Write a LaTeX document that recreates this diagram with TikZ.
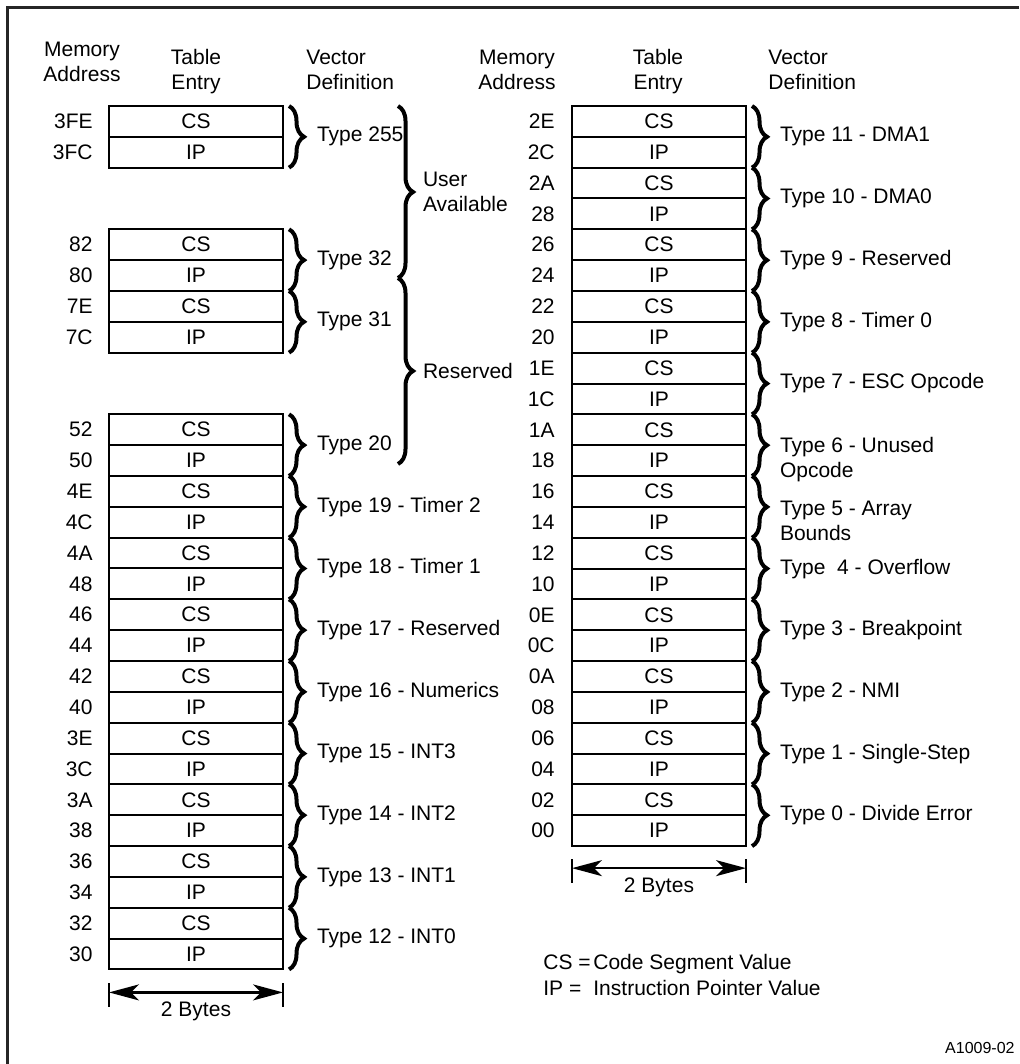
\documentclass[tikz,border=0pt]{standalone}
\usepackage{fontspec}
\setmainfont{Liberation Sans}
\usetikzlibrary{positioning,decorations.pathreplacing,arrows.meta}
\newcommand{\dfont}{\fontsize{10.5}{12.5}\selectfont}

\begin{document}
\begin{tikzpicture}[
    x=0.5pt, y=-0.5pt,
    cell/.style={draw, line width=1pt, minimum width=87pt, minimum height=15.42pt, inner sep=0pt, outer sep=0pt, font=\dfont},
    adr/.style={inner sep=0pt, font=\dfont},
    brc/.style={decorate, decoration={brace, amplitude=7.5pt}, line width=2pt},
    typ/.style={midway, right=13pt, inner sep=0pt, font=\dfont, align=left},
    hdr/.style={inner sep=0pt, font=\dfont, align=center},
    dim/.style={{Stealth[length=15pt, width=8pt, inset=4pt]}-{Stealth[length=15pt, width=8pt, inset=4pt]}, line width=1.2pt},
    tck/.style={line width=1.3pt}
]
    \useasboundingbox (0,0) rectangle (1019,1064);
    \draw[line width=1.2pt, black!85] (1019,7.5) -- (7.5,7.5) -- (7.5,1064);

    \node[hdr] (hma1) at (82,62) {Memory\\Address};
    \node[hdr] (hte1) at (196,72) {Table\\Entry};
    \node[hdr, align=left, anchor=west] (hvd1) at (306,70) {Vector\\Definition};
    \node[hdr] (hma2) at (517,70) {Memory\\Address};
    \node[hdr] (hte2) at (658,72) {Table\\Entry};
    \node[hdr, align=left, anchor=west] (hvd2) at (768,70) {Vector\\Definition};

    \node[cell] (a3FE) at (196,121.4) {CS};
    \node[cell, below=0pt of a3FE] (a3FC) {IP};
    \node[cell] (a82) at (196,244.7) {CS};
    \node[cell, below=0pt of a82] (a80) {IP};
    \node[cell, below=0pt of a80] (a7E) {CS};
    \node[cell, below=0pt of a7E] (a7C) {IP};
    \node[cell] (a52) at (196,429.7) {CS};
    \node[cell, below=0pt of a52] (a50) {IP};
    \node[cell, below=0pt of a50] (a4E) {CS};
    \node[cell, below=0pt of a4E] (a4C) {IP};
    \node[cell, below=0pt of a4C] (a4A) {CS};
    \node[cell, below=0pt of a4A] (a48) {IP};
    \node[cell, below=0pt of a48] (a46) {CS};
    \node[cell, below=0pt of a46] (a44) {IP};
    \node[cell, below=0pt of a44] (a42) {CS};
    \node[cell, below=0pt of a42] (a40) {IP};
    \node[cell, below=0pt of a40] (a3E) {CS};
    \node[cell, below=0pt of a3E] (a3C) {IP};
    \node[cell, below=0pt of a3C] (a3A) {CS};
    \node[cell, below=0pt of a3A] (a38) {IP};
    \node[cell, below=0pt of a38] (a36) {CS};
    \node[cell, below=0pt of a36] (a34) {IP};
    \node[cell, below=0pt of a34] (a32) {CS};
    \node[cell, below=0pt of a32] (a30) {IP};

    \node[adr, left=8pt of a3FE] {3FE};
    \node[adr, left=8pt of a3FC] {3FC};
    \node[adr, left=8pt of a82] {82};
    \node[adr, left=8pt of a80] {80};
    \node[adr, left=8pt of a7E] {7E};
    \node[adr, left=8pt of a7C] {7C};
    \node[adr, left=8pt of a52] {52};
    \node[adr, left=8pt of a50] {50};
    \node[adr, left=8pt of a4E] {4E};
    \node[adr, left=8pt of a4C] {4C};
    \node[adr, left=8pt of a4A] {4A};
    \node[adr, left=8pt of a48] {48};
    \node[adr, left=8pt of a46] {46};
    \node[adr, left=8pt of a44] {44};
    \node[adr, left=8pt of a42] {42};
    \node[adr, left=8pt of a40] {40};
    \node[adr, left=8pt of a3E] {3E};
    \node[adr, left=8pt of a3C] {3C};
    \node[adr, left=8pt of a3A] {3A};
    \node[adr, left=8pt of a38] {38};
    \node[adr, left=8pt of a36] {36};
    \node[adr, left=8pt of a34] {34};
    \node[adr, left=8pt of a32] {32};
    \node[adr, left=8pt of a30] {30};

    \draw[brc] ([xshift=3pt]a3FE.north east) -- ([xshift=3pt]a3FC.south east) node[typ] {Type 255};
    \draw[brc] ([xshift=3pt]a82.north east) -- ([xshift=3pt]a80.south east) node[typ] {Type 32};
    \draw[brc] ([xshift=3pt]a7E.north east) -- ([xshift=3pt]a7C.south east) node[typ] {Type 31};
    \draw[brc] ([xshift=3pt]a52.north east) -- ([xshift=3pt]a50.south east) node[typ] {Type 20};
    \draw[brc] ([xshift=3pt]a4E.north east) -- ([xshift=3pt]a4C.south east) node[typ] {Type 19 - Timer 2};
    \draw[brc] ([xshift=3pt]a4A.north east) -- ([xshift=3pt]a48.south east) node[typ] {Type 18 - Timer 1};
    \draw[brc] ([xshift=3pt]a46.north east) -- ([xshift=3pt]a44.south east) node[typ] {Type 17 - Reserved};
    \draw[brc] ([xshift=3pt]a42.north east) -- ([xshift=3pt]a40.south east) node[typ] {Type 16 - Numerics};
    \draw[brc] ([xshift=3pt]a3E.north east) -- ([xshift=3pt]a3C.south east) node[typ] {Type 15 - INT3};
    \draw[brc] ([xshift=3pt]a3A.north east) -- ([xshift=3pt]a38.south east) node[typ] {Type 14 - INT2};
    \draw[brc] ([xshift=3pt]a36.north east) -- ([xshift=3pt]a34.south east) node[typ] {Type 13 - INT1};
    \draw[brc] ([xshift=3pt]a32.north east) -- ([xshift=3pt]a30.south east) node[typ] {Type 12 - INT0};

    \coordinate (ua1) at (398,106);
    \coordinate (ua2) at (398,278);
    \coordinate (rs2) at (398,464);
    \draw[brc] (ua1) -- (ua2) node[typ, right=11.5pt] {User\\Available};
    \draw[brc] (ua2) -- (rs2) node[typ, right=11.5pt] {Reserved};

    \node[cell] (a2E) at (659,121.4) {CS};
    \node[cell, below=0pt of a2E] (a2C) {IP};
    \node[cell, below=0pt of a2C] (a2A) {CS};
    \node[cell, below=0pt of a2A] (a28) {IP};
    \node[cell, below=0pt of a28] (a26) {CS};
    \node[cell, below=0pt of a26] (a24) {IP};
    \node[cell, below=0pt of a24] (a22) {CS};
    \node[cell, below=0pt of a22] (a20) {IP};
    \node[cell, below=0pt of a20] (a1E) {CS};
    \node[cell, below=0pt of a1E] (a1C) {IP};
    \node[cell, below=0pt of a1C] (a1A) {CS};
    \node[cell, below=0pt of a1A] (a18) {IP};
    \node[cell, below=0pt of a18] (a16) {CS};
    \node[cell, below=0pt of a16] (a14) {IP};
    \node[cell, below=0pt of a14] (a12) {CS};
    \node[cell, below=0pt of a12] (a10) {IP};
    \node[cell, below=0pt of a10] (a0E) {CS};
    \node[cell, below=0pt of a0E] (a0C) {IP};
    \node[cell, below=0pt of a0C] (a0A) {CS};
    \node[cell, below=0pt of a0A] (a08) {IP};
    \node[cell, below=0pt of a08] (a06) {CS};
    \node[cell, below=0pt of a06] (a04) {IP};
    \node[cell, below=0pt of a04] (a02) {CS};
    \node[cell, below=0pt of a02] (a00) {IP};

    \node[adr, left=8.5pt of a2E] {2E};
    \node[adr, left=8.5pt of a2C] {2C};
    \node[adr, left=8.5pt of a2A] {2A};
    \node[adr, left=8.5pt of a28] {28};
    \node[adr, left=8.5pt of a26] {26};
    \node[adr, left=8.5pt of a24] {24};
    \node[adr, left=8.5pt of a22] {22};
    \node[adr, left=8.5pt of a20] {20};
    \node[adr, left=8.5pt of a1E] {1E};
    \node[adr, left=8.5pt of a1C] {1C};
    \node[adr, left=8.5pt of a1A] {1A};
    \node[adr, left=8.5pt of a18] {18};
    \node[adr, left=8.5pt of a16] {16};
    \node[adr, left=8.5pt of a14] {14};
    \node[adr, left=8.5pt of a12] {12};
    \node[adr, left=8.5pt of a10] {10};
    \node[adr, left=8.5pt of a0E] {0E};
    \node[adr, left=8.5pt of a0C] {0C};
    \node[adr, left=8.5pt of a0A] {0A};
    \node[adr, left=8.5pt of a08] {08};
    \node[adr, left=8.5pt of a06] {06};
    \node[adr, left=8.5pt of a04] {04};
    \node[adr, left=8.5pt of a02] {02};
    \node[adr, left=8.5pt of a00] {00};

    \draw[brc] ([xshift=3pt]a2E.north east) -- ([xshift=3pt]a2C.south east) node[typ] {Type 11 - DMA1};
    \draw[brc] ([xshift=3pt]a2A.north east) -- ([xshift=3pt]a28.south east) node[typ] {Type 10 - DMA0};
    \draw[brc] ([xshift=3pt]a26.north east) -- ([xshift=3pt]a24.south east) node[typ] {Type 9 - Reserved};
    \draw[brc] ([xshift=3pt]a22.north east) -- ([xshift=3pt]a20.south east) node[typ] {Type 8 - Timer 0};
    \draw[brc] ([xshift=3pt]a1E.north east) -- ([xshift=3pt]a1C.south east) node[typ] {Type 7 - ESC Opcode};
    \draw[brc] ([xshift=3pt]a1A.north east) -- ([xshift=3pt]a18.south east) node[typ, yshift=-7pt] {Type 6 - Unused\\Opcode};
    \draw[brc] ([xshift=3pt]a16.north east) -- ([xshift=3pt]a14.south east) node[typ, yshift=-6.75pt] {Type 5 - Array\\Bounds};
    \draw[brc] ([xshift=3pt]a12.north east) -- ([xshift=3pt]a10.south east) node[typ] {Type\ \ 4 - Overflow};
    \draw[brc] ([xshift=3pt]a0E.north east) -- ([xshift=3pt]a0C.south east) node[typ] {Type 3 - Breakpoint};
    \draw[brc] ([xshift=3pt]a0A.north east) -- ([xshift=3pt]a08.south east) node[typ] {Type 2 - NMI};
    \draw[brc] ([xshift=3pt]a06.north east) -- ([xshift=3pt]a04.south east) node[typ] {Type 1 - Single-Step};
    \draw[brc] ([xshift=3pt]a02.north east) -- ([xshift=3pt]a00.south east) node[typ] {Type 0 - Divide Error};

    \coordinate (dl1) at ([yshift=-11.5pt]a30.south west);
    \coordinate (dl2) at ([yshift=-11.5pt]a30.south east);
    \draw[tck] (dl1) ++(0,-9) -- ++(0,23.5);
    \draw[tck] (dl2) ++(0,-9) -- ++(0,23.5);
    \draw[dim] (dl1) -- (dl2) node[midway, below=4pt, inner sep=0pt, font=\dfont] {2 Bytes};

    \coordinate (dr1) at ([yshift=-11pt]a00.south west);
    \coordinate (dr2) at ([yshift=-11pt]a00.south east);
    \draw[tck] (dr1) ++(0,-9) -- ++(0,23.5);
    \draw[tck] (dr2) ++(0,-9) -- ++(0,23.5);
    \draw[dim] (dr1) -- (dr2) node[midway, below=4pt, inner sep=0pt, font=\dfont] {2 Bytes};

    \node[hdr, align=left, anchor=west] (lgd) at (543,975) {\makebox[25pt][l]{CS =}Code Segment Value\\[0.85pt]\makebox[25pt][l]{IP =}Instruction Pointer Value};
    \node[inner sep=0pt, anchor=east, font=\fontsize{8}{9.6}\selectfont] (fig) at (1015,1048) {A1009-02};
\end{tikzpicture}
\end{document}
